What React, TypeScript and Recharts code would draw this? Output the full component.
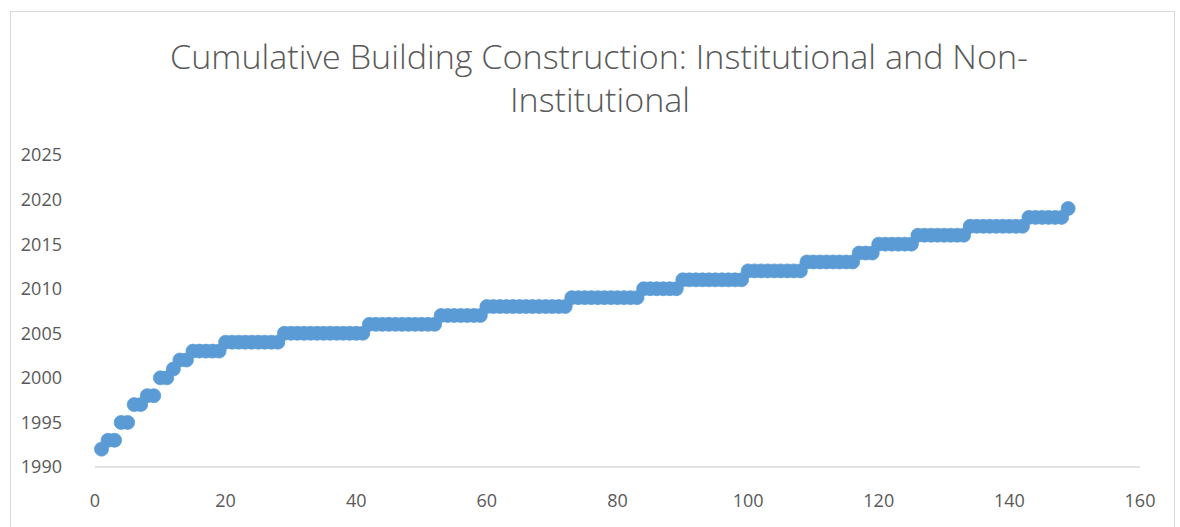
import React from "react";
import { ScatterChart, Scatter, XAxis, YAxis } from "recharts";

// Year of each building, in cumulative order (building #1 .. #149)
const buildingYears: number[] = [
  1992,
  1993, 1993,
  1995, 1995,
  1997, 1997,
  1998, 1998,
  2000, 2000,
  2001,
  2002, 2002,
  2003, 2003, 2003, 2003, 2003,
  2004, 2004, 2004, 2004, 2004, 2004, 2004, 2004, 2004,
  2005, 2005, 2005, 2005, 2005, 2005, 2005, 2005, 2005, 2005, 2005, 2005, 2005,
  2006, 2006, 2006, 2006, 2006, 2006, 2006, 2006, 2006, 2006, 2006,
  2007, 2007, 2007, 2007, 2007, 2007, 2007,
  2008, 2008, 2008, 2008, 2008, 2008, 2008, 2008, 2008, 2008, 2008, 2008, 2008,
  2009, 2009, 2009, 2009, 2009, 2009, 2009, 2009, 2009, 2009, 2009,
  2010, 2010, 2010, 2010, 2010, 2010,
  2011, 2011, 2011, 2011, 2011, 2011, 2011, 2011, 2011, 2011,
  2012, 2012, 2012, 2012, 2012, 2012, 2012, 2012, 2012,
  2013, 2013, 2013, 2013, 2013, 2013, 2013, 2013,
  2014, 2014, 2014,
  2015, 2015, 2015, 2015, 2015, 2015,
  2016, 2016, 2016, 2016, 2016, 2016, 2016, 2016,
  2017, 2017, 2017, 2017, 2017, 2017, 2017, 2017, 2017,
  2018, 2018, 2018, 2018, 2018, 2018,
  2019,
];

const xTicks: number[] = [0, 20, 40, 60, 80, 100, 120, 140, 160];
const yTicks: number[] = [1990, 1995, 2000, 2005, 2010, 2015, 2020, 2025];

const titleLine1 = "Cumulative Building Construction: Institutional and Non-";
const titleLine2 = "Institutional";

const data = buildingYears.map((year, i) => ({ n: i + 1, year }));

const BLUE = "#5B9BD5";
const TEXT = "#595959";
const FONT = "'Open Sans', 'Noto Sans', sans-serif";

const Dot = (props: any) => {
  const { cx, cy } = props;
  if (cx == null || cy == null) return null;
  return <circle cx={cx} cy={cy} r={7} fill={BLUE} stroke={BLUE} strokeWidth={0.75} />;
};

export default function App() {
  return (
    <div
      style={{
        position: "absolute",
        left: 0,
        top: 0,
        width: 1180,
        height: 527,
        overflow: "hidden",
        background: "#ffffff",
      }}
    >
      <div
        style={{
          position: "absolute",
          left: 10,
          top: 11,
          width: 1165,
          height: 540,
          border: "1px solid #d9d9d9",
          boxSizing: "border-box",
        }}
      />
      <svg
        width={1180}
        height={130}
        style={{ position: "absolute", left: 0, top: 0 }}
      >
        <text
          x={170}
          y={69}
          textLength={858}
          lengthAdjust="spacingAndGlyphs"
          fontFamily={FONT}
          fontSize={33}
          fontWeight={300}
          fill={TEXT}
        >
          {titleLine1}
        </text>
        <text
          x={510}
          y={112}
          textLength={180}
          lengthAdjust="spacingAndGlyphs"
          fontFamily={FONT}
          fontSize={33}
          fontWeight={300}
          fill={TEXT}
        >
          {titleLine2}
        </text>
      </svg>
      <div style={{ position: "absolute", left: 0, top: 0 }}>
        <ScatterChart
          width={1180}
          height={527}
          margin={{ top: 155, right: 40, bottom: 30, left: 37 }}
        >
          <XAxis
            type="number"
            dataKey="n"
            domain={[0, 160]}
            ticks={xTicks}
            interval={0}
            tickLine={false}
            tickSize={0}
            tickMargin={27}
            axisLine={{ stroke: "#d9d9d9", strokeWidth: 1.5 }}
            tick={{ fill: TEXT, fontSize: 18, fontFamily: FONT }}
            height={30}
          />
          <YAxis
            type="number"
            dataKey="year"
            domain={[1990, 2025]}
            ticks={yTicks}
            interval={0}
            tickLine={false}
            tickSize={0}
            tickMargin={33}
            axisLine={false}
            tick={{ fill: TEXT, fontSize: 18, fontFamily: FONT }}
            width={58}
          />
          <Scatter data={data} shape={Dot} isAnimationActive={false} />
        </ScatterChart>
      </div>
    </div>
  );
}
